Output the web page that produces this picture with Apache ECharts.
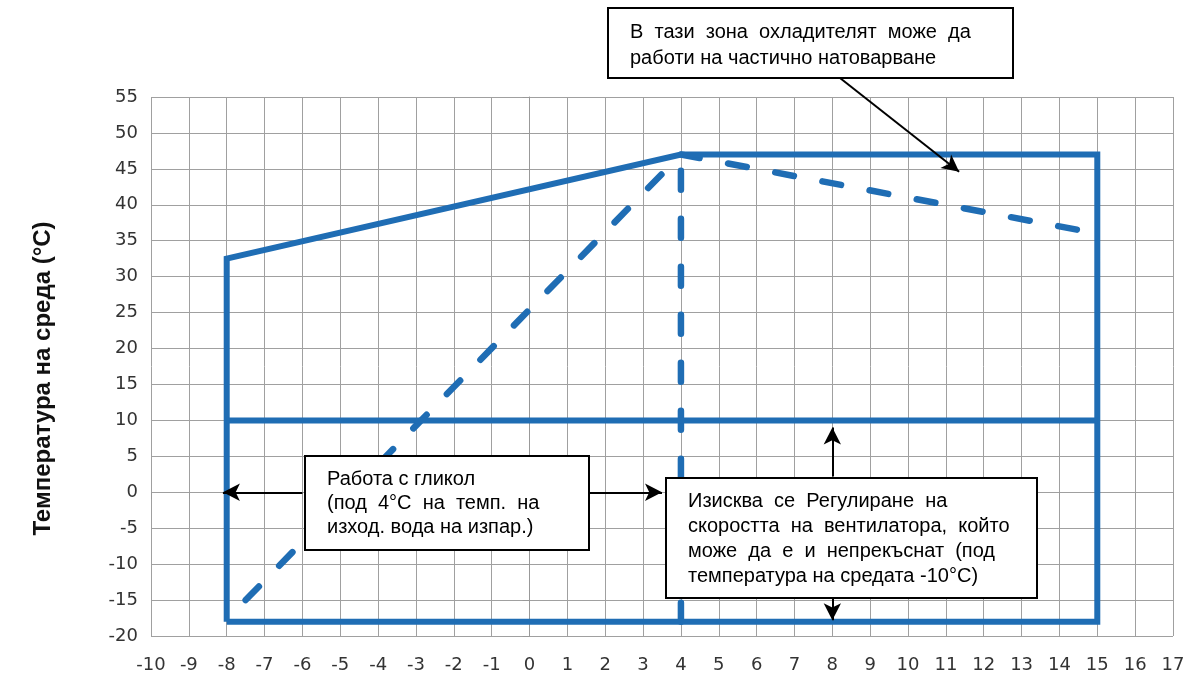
<!DOCTYPE html>
<html>
<head>
<meta charset="utf-8">
<script src="https://cdn.jsdelivr.net/npm/echarts@6/dist/echarts.min.js"></script>
<style>
html,body{margin:0;padding:0;background:#fff;}
#chart{width:1193px;height:684px;}
</style>
</head>
<body>
<div id="chart"></div>
<script>
// ---- data ----
const xRange = [-10, 17];
const yRange = [-20, 55];
const envelope = [[-8, -18], [-8, 32.5], [4, 47], [15, 47], [15, -18], [-8, -18]];
const line10 = [[-8, 10], [15, 10]];
const dashVertical = [[4, -18], [4, 47]];
const dashRising = [[-7.5, -15], [4, 47]];
const dashFalling = [[4, 47], [15, 36]];
const yAxisTitle = 'Температура на среда (°C)';
const note1 = ['В  тази  зона  охладителят  може  да', 'работи на частично натоварване'];
const note2 = ['Работа с гликол', '(под  4°C  на  темп.  на', 'изход. вода на изпар.)'];
const note3 = ['Изисква  се  Регулиране  на', 'скоростта  на  вентилатора,  който', 'може  да  е  и  непрекъснат  (под', 'температура на средата -10°C)'];
// arrows: [from, to] in data coordinates
const arrows = [
  [[-6, 0], [-8.1, 0]],
  [[1.5, 0], [3.5, 0]],
  [[8, 2.2], [8, 9]],
  [[8, -14.6], [8, -17.8]]
];
// arrow from the top note (starts at the note's lower edge, above the plot)
const topArrowTarget = [11.35, 44.6];

const BLUE = '#1F6DB4';
const chart = echarts.init(document.getElementById('chart'));

function solid(data) {
  return {type: 'line', data: data, showSymbol: false, silent: true, clip: false,
    lineStyle: {color: BLUE, width: 6, cap: 'butt', join: 'miter'}, z: 3};
}
function dashed(data) {
  return {type: 'line', data: data, showSymbol: false, silent: true, clip: false,
    lineStyle: {color: BLUE, width: 6.5, type: [19, 29], cap: 'round'}, z: 2};
}

const labelFont = {fontFamily: 'DejaVu Sans', fontSize: 18, color: '#333'};

function box(left, top, w, h, lines, lh) {
  return {
    type: 'group', left: left, top: top, z: 100,
    children: [
      {type: 'rect', z: 100, shape: {x: 0, y: 0, width: w, height: h},
       style: {fill: '#ffffff', stroke: '#000', lineWidth: 2}},
      {type: 'text', z: 101, x: 22, y: 11,
       style: {text: lines.join('\n'), font: '20px "Liberation Sans", Arial, sans-serif',
               fill: '#000', lineHeight: lh}}
    ]
  };
}

chart.setOption({
  animation: false,
  backgroundColor: '#fff',
  grid: {left: 151, right: 20, top: 97, bottom: 48},
  xAxis: {
    type: 'value', min: xRange[0], max: xRange[1], interval: 1,
    axisLine: {show: false},
    axisTick: {show: true, length: 7, lineStyle: {color: '#999'}},
    axisLabel: Object.assign({margin: 20}, labelFont),
    splitLine: {show: true, lineStyle: {color: '#a0a0a0', width: 1}}
  },
  yAxis: {
    type: 'value', min: yRange[0], max: yRange[1], interval: 5,
    name: yAxisTitle, nameLocation: 'middle', nameGap: 96, nameRotate: 90,
    nameTextStyle: {fontFamily: 'Liberation Sans', fontWeight: 'bold', fontSize: 24, color: '#111',
                    padding: [0, 24, 0, 0]},
    axisLine: {show: true, lineStyle: {color: '#999'}},
    axisTick: {show: true, length: 7, lineStyle: {color: '#999'}},
    axisLabel: Object.assign({margin: 13}, labelFont),
    splitLine: {show: true, lineStyle: {color: '#a0a0a0', width: 1}}
  },
  series: [
    solid(envelope),
    solid(line10),
    dashed(dashVertical),
    dashed(dashRising),
    dashed(dashFalling),
    {
      type: 'line', data: [], silent: true, clip: false, z: 60,
      markLine: {
        silent: true, animation: false,
        symbol: ['none', 'arrow'], symbolSize: [13, 17],
        label: {show: false},
        lineStyle: {color: '#000', width: 2, type: 'solid'},
        data: arrows.map(a => [{coord: a[0]}, {coord: a[1]}])
          .concat([[{x: 840, y: 78}, {coord: topArrowTarget}]])
      }
    }
  ],
  graphic: [
    box(607, 7, 405, 70, note1, 26),
    box(304, 455, 284, 94, note2, 24),
    box(665, 477, 371, 120, note3, 25)
  ]
});
</script>
</body>
</html>
